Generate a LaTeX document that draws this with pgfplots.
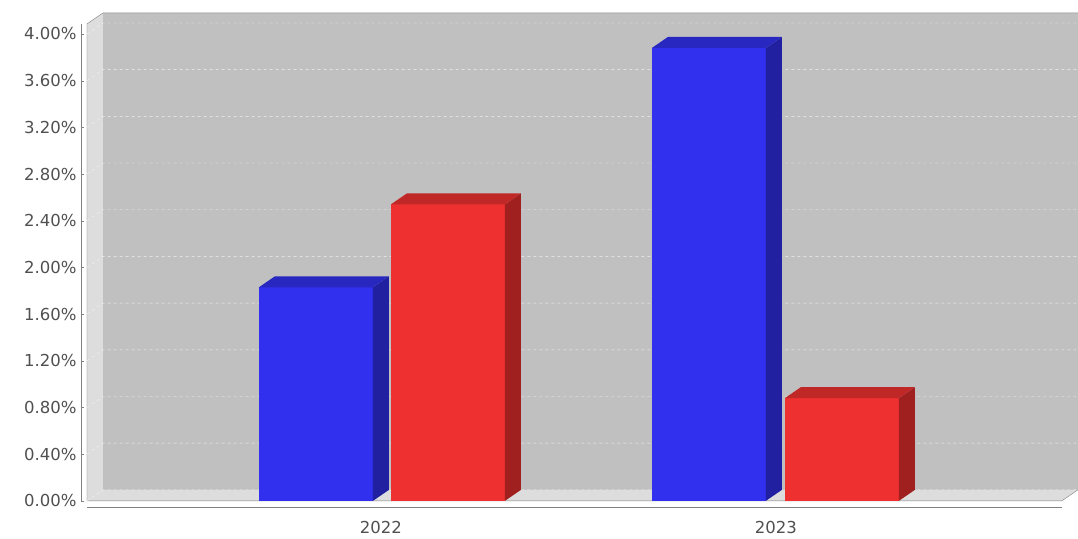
\documentclass[border=0pt]{standalone}
\usepackage{pgfplots}
\pgfplotsset{compat=1.18}
\usepackage{fontspec}
\setmainfont{DejaVu Sans}
\definecolor{wall}{HTML}{C0C0C0}
\definecolor{side}{HTML}{DDDDDD}
\definecolor{bf}{HTML}{3030EE}
\definecolor{bs}{HTML}{2020A0}
\definecolor{bt}{HTML}{2828C0}
\definecolor{rf}{HTML}{EE3030}
\definecolor{rs}{HTML}{A02020}
\definecolor{rt}{HTML}{C02828}
\definecolor{txt}{HTML}{505050}
\begin{document}
\begin{tikzpicture}
\begin{axis}[x=1pt,y=116.75pt,xmin=0,xmax=975,ymin=0,ymax=4.086,
 clip=false,scale only axis,
 axis x line*=bottom, axis y line*=left,
 axis x line shift=6pt, axis y line shift=6pt,
 x axis line style={draw=gray,-},
 y axis line style={draw=gray,-},
 xtick={294,689},xticklabels={2022,2023},major x tick style={draw=none},
 ytick={0,0.4,...,4.01},
 yticklabels={0.00\%,0.40\%,0.80\%,1.20\%,1.60\%,2.00\%,2.40\%,2.80\%,3.20\%,3.60\%,4.00\%},
 major y tick style={draw=gray},major tick length=3pt,
 tick label style={font=\fontsize{16.5}{16.5}\selectfont,text=txt},
 xticklabel style={yshift=-11pt},
 yticklabel style={xshift=-1pt},
 /pgf/number format/assume math mode=true]
\path (axis cs:-87,-0.3255) rectangle (axis cs:991,4.291);
% walls
\addplot[fill=wall,draw=none] coordinates {(16,0.0942)(991,0.0942)(991,4.18)(16,4.18)} --cycle;
\addplot[fill=side,draw=none] coordinates {(0,0)(16,0.0942)(16,4.18)(0,4.086)} --cycle;
\addplot[fill=side,draw=none] coordinates {(0,0)(975,0)(991,0.0942)(16,0.0942)} --cycle;
\draw[gray,thin] (axis cs:0,0)--(axis cs:0,4.086)--(axis cs:16,4.18)--(axis cs:991,4.18);
\draw[gray,thin] (axis cs:0,0)--(axis cs:975,0)--(axis cs:991,0.0942);
\pgfplotsinvokeforeach{0,0.4,0.8,1.2,1.6,2.0,2.4,2.8,3.2,3.6,4.0}{
 \draw[white!80!wall,dashed,thin] (axis cs:0,#1)--(axis cs:16,#1+0.0942)--(axis cs:991,#1+0.0942);
}
% bars
\addplot[fill=bf,draw=none] coordinates {(172,0)(286,0)(286,1.83)(172,1.83)} --cycle;
\addplot[fill=bs,draw=none] coordinates {(286,0)(302,0.0942)(302,1.9242)(286,1.83)} --cycle;
\addplot[fill=bt,draw=none] coordinates {(172,1.83)(286,1.83)(302,1.9242)(188,1.9242)} --cycle;
\addplot[fill=rf,draw=none] coordinates {(304,0)(418,0)(418,2.54)(304,2.54)} --cycle;
\addplot[fill=rs,draw=none] coordinates {(418,0)(434,0.0942)(434,2.6342)(418,2.54)} --cycle;
\addplot[fill=rt,draw=none] coordinates {(304,2.54)(418,2.54)(434,2.6342)(320,2.6342)} --cycle;
\addplot[fill=bf,draw=none] coordinates {(565,0)(679,0)(679,3.88)(565,3.88)} --cycle;
\addplot[fill=bs,draw=none] coordinates {(679,0)(695,0.0942)(695,3.9742)(679,3.88)} --cycle;
\addplot[fill=bt,draw=none] coordinates {(565,3.88)(679,3.88)(695,3.9742)(581,3.9742)} --cycle;
\addplot[fill=rf,draw=none] coordinates {(698,0)(812,0)(812,0.88)(698,0.88)} --cycle;
\addplot[fill=rs,draw=none] coordinates {(812,0)(828,0.0942)(828,0.9742)(812,0.88)} --cycle;
\addplot[fill=rt,draw=none] coordinates {(698,0.88)(812,0.88)(828,0.9742)(714,0.9742)} --cycle;
\end{axis}
\end{tikzpicture}
\end{document}
